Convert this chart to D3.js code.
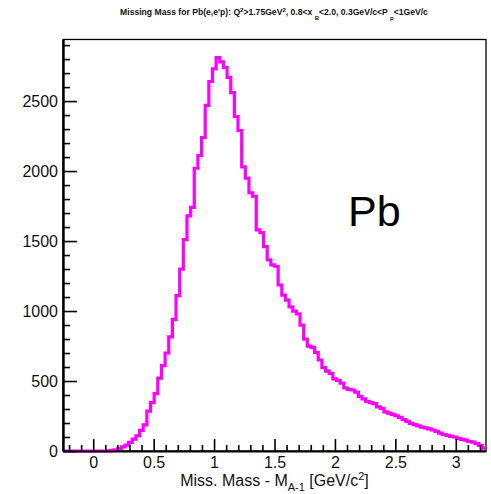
<!DOCTYPE html>
<html>
<head>
<meta charset="utf-8">
<script src="https://cdn.jsdelivr.net/npm/d3@7"></script>
<style>
html,body{margin:0;padding:0;background:#fff;}
svg{display:block;font-family:"Liberation Sans",Arial,sans-serif;}
</style>
</head>
<body>
<svg id="chart" width="491" height="494"></svg>
<script>
// ---- data ----
const xRange = [-0.25, 3.25];
const yRange = [0, 2940];
const counts = [
  0,0,0,0,0,0,0,0,0,0,0,0,1,4,9,18,30,42,62,85,
  108,148,186,285,345,410,520,610,700,815,940,1110,1300,1510,1680,1740,2020,2110,2240,2470,
  2640,2730,2810,2780,2740,2670,2560,2390,2290,2030,1950,1845,1820,1580,1560,1460,1365,1330,1320,1186,
  1114,1078,1030,1000,980,900,800,750,740,705,650,595,570,555,515,505,485,450,440,436,
  420,390,372,355,345,338,315,305,280,270,262,252,240,225,212,198,188,180,170,165,
  158,150,140,128,118,112,105,100,90,83,78,68,63,52,40,20
];
const xMajorTicks = [0, 0.5, 1, 1.5, 2, 2.5, 3];
const xTickLabels = ["0", "0.5", "1", "1.5", "2", "2.5", "3"];
const yMajorTicks = [0, 500, 1000, 1500, 2000, 2500];
const yTickLabels = ["0", "500", "1000", "1500", "2000", "2500"];
const histLabel = "Pb";

// ---- layout ----
const L = 63, R = 486, T = 39.5, B = 451;
const svg = d3.select("#chart");
const x = d3.scaleLinear().domain(xRange).range([L, R]);
const y = d3.scaleLinear().domain(yRange).range([B, T]);

const nBins = counts.length;
const bw = (xRange[1] - xRange[0]) / nBins;

// frame
svg.append("rect").attr("x", L).attr("y", T).attr("width", R - L).attr("height", B - T)
  .attr("fill", "none").attr("stroke", "#000").attr("stroke-width", 1.3);

// histogram
const pts = [];
counts.forEach((c, i) => {
  const lo = xRange[0] + i * bw, hi = lo + bw;
  pts.push([lo, c]); pts.push([hi, c]);
});
const line = d3.line().x(d => x(d[0])).y(d => y(d[1]));
svg.append("path").attr("d", line(pts)).attr("fill", "none")
  .attr("stroke", "#ff00ff").attr("stroke-width", 3.2).attr("stroke-linejoin", "miter");

// x axis (ticks inward)
const xMinor = d3.range(-2, 33).map(k => k / 10).filter(v => xMajorTicks.every(m => Math.abs(m - v) > 1e-6));
const xAxis = d3.axisBottom(x).tickValues(xMajorTicks).tickSizeInner(-12).tickSizeOuter(0)
  .tickFormat((d, i) => xTickLabels[i]);
const gx = svg.append("g").attr("transform", `translate(0,${B})`).call(xAxis);
gx.select(".domain").attr("stroke-width", 2);
gx.selectAll(".tick line").attr("stroke-width", 1.6);
gx.selectAll(".tick text").attr("y", 17).attr("dy", 0).attr("font-size", 16)
  .attr("font-family", "Liberation Sans, Arial, sans-serif").attr("fill", "#111");
const xAxisMinor = d3.axisBottom(x).tickValues(xMinor).tickSizeInner(-6).tickSizeOuter(0).tickFormat("");
const gxm = svg.append("g").attr("transform", `translate(0,${B})`).call(xAxisMinor);
gxm.select(".domain").remove();
gxm.selectAll(".tick line").attr("stroke-width", 1.6);

// y axis
const yMinor = d3.range(0, 2940, 100).filter(v => v % 500 !== 0);
const yAxis = d3.axisLeft(y).tickValues(yMajorTicks).tickSizeInner(-14).tickSizeOuter(0)
  .tickFormat((d, i) => yTickLabels[i]);
const gy = svg.append("g").attr("transform", `translate(${L},0)`).call(yAxis);
gy.select(".domain").attr("stroke-width", 2.4);
gy.selectAll(".tick line").attr("stroke-width", 1.6);
gy.selectAll(".tick text").attr("x", -5).attr("font-size", 16)
  .attr("font-family", "Liberation Sans, Arial, sans-serif").attr("fill", "#111");
const yAxisMinor = d3.axisLeft(y).tickValues(yMinor).tickSizeInner(-7).tickSizeOuter(0).tickFormat("");
const gym = svg.append("g").attr("transform", `translate(${L},0)`).call(yAxisMinor);
gym.select(".domain").remove();
gym.selectAll(".tick line").attr("stroke-width", 1.6);

// x axis title
const xt = svg.append("text").attr("x", (L + R) / 2).attr("y", 486).attr("text-anchor", "middle")
  .attr("font-size", 16).attr("fill", "#111");
xt.append("tspan").text("Miss. Mass - M");
xt.append("tspan").attr("font-size", 11).attr("dy", 5).text("A-1");
xt.append("tspan").attr("dy", -5).text(" [GeV/c");
xt.append("tspan").attr("font-size", 11).attr("dy", -6).text("2");
xt.append("tspan").attr("dy", 6).text("]");

// title
const tt = svg.append("text").attr("x", 274).attr("y", 15).attr("text-anchor", "middle")
  .attr("font-size", 8.6).attr("font-weight", "bold").attr("fill", "#111");
tt.append("tspan").text("Missing Mass for Pb(e,e'p): Q");
tt.append("tspan").attr("font-size", 6).attr("dy", -3).text("2");
tt.append("tspan").attr("dy", 3).text(">1.75GeV");
tt.append("tspan").attr("font-size", 6).attr("dy", -3).text("2");
tt.append("tspan").attr("dy", 3).text(", 0.8<x  ");
tt.append("tspan").attr("font-size", 6).attr("dy", 5).text("B");
tt.append("tspan").attr("dy", -5).text("<2.0, 0.3GeV/c<P  ");
tt.append("tspan").attr("font-size", 6).attr("dy", 5).text("p");
tt.append("tspan").attr("dy", -5).text("<1GeV/c");

// Pb label
svg.append("text").attr("x", 348).attr("y", 226).attr("font-size", 43).attr("fill", "#000").text(histLabel);
</script>
</body>
</html>
